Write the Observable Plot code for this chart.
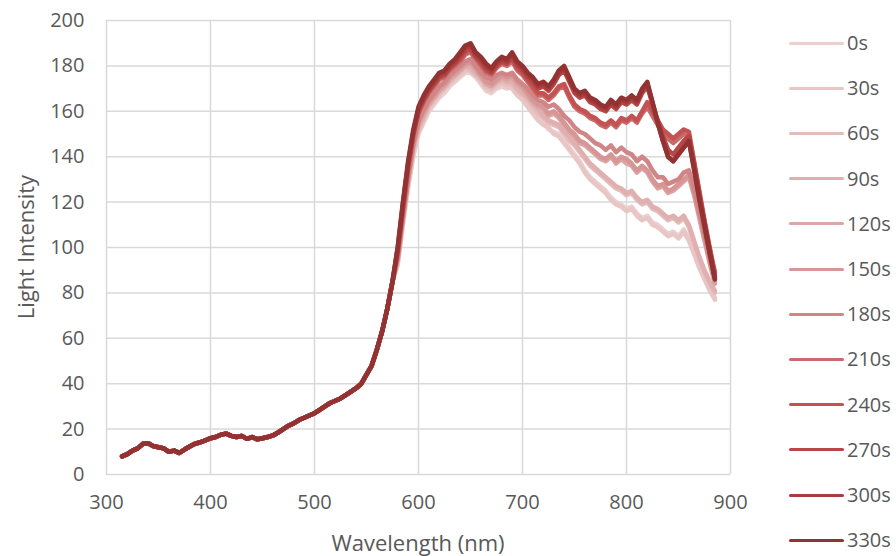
<!DOCTYPE html>
<html><head><meta charset="utf-8">
<script src="https://cdn.jsdelivr.net/npm/d3@7"></script>
<script src="https://cdn.jsdelivr.net/npm/@observablehq/plot@0.6"></script>
<style>
body{margin:0;background:#fff;}
#wrap{position:relative;width:896px;height:556px;font-family:"Open Sans",sans-serif;color:#595959;overflow:hidden;background:#fff}
#wrap svg{position:absolute;left:0;top:0}
.ttl{position:absolute;font-size:22px;white-space:nowrap;line-height:1}
.lg-sw{position:absolute;height:3px;width:55px;border-radius:1.5px}
.lg-tx{position:absolute;font-size:20px;line-height:1;white-space:nowrap}
</style></head><body><div id="wrap"></div>
<script>
const seriesNames = ["0s","30s","60s","90s","120s","150s","180s","210s","240s","270s","300s","330s"];
const seriesColors = ["#ecd0d0","#e8c6c6","#e4bcbc","#e0b0b0","#dca4a4","#d69696","#d08686","#ca6a6a","#c45252","#b84646","#a83c3c","#923232"];
const xTicks = [300,400,500,600,700,800,900];
const yTicks = [0,20,40,60,80,100,120,140,160,180,200];

// shared part (all series overlap), 315–575 nm
const baseWavelength = [315,320,325,330,335,340,345,350,355,360,365,370,375,380,385,390,395,400,405,410,415,420,425,430,435,440,445,450,455,460,465,470,475,480,485,490,495,500,505,510,515,520,525,530,535,540,545,550,555,560,565,570,575];
const baseIntensity = [8,9,10.5,11.5,13.5,13.8,12.5,12,11.5,10,10.5,9.5,11,12.3,13.5,14.2,15,16,16.5,17.5,18,17,16.5,17,15.7,16.5,15.5,16,16.5,17.2,18.5,20,21.5,22.5,24,25,26,27,28.5,30,31.5,32.5,33.5,35,36.5,38,40,44,48,55,63,73,85];

// per-series part, 580–885 nm
const tailWavelength = [580,585,590,595,600,605,610,615,620,625,630,635,640,645,650,655,660,665,670,675,680,685,690,695,700,705,710,715,720,725,730,735,740,745,750,755,760,765,770,775,780,785,790,795,800,805,810,815,820,825,830,835,840,845,850,855,860,865,870,875,880,885];
const tail0s   = [92,110,126,140,150,155,160,163,166,168,171,173,175,177,177,175,172,169,168,170,171,170,171,168,166,163,160,157,155,152,151,150,147,144,141,138,134,131,129,127,125,122,120,119,117,118,115,113,114,111,110,108,106,107,105,108,104,98,92,87,82,78];
const tail30s  = [93,111,127,141,151,156,161,164,167,170,172,174,176,178,178,176,173,170,169,171,172,171,170,167,165,162,159,156,154,153,150,149,146,143,140,137,133,130,128,126,124,121,119,118,116,117,114,112,113,110,109,107,105,106,104,107,103,97,91,86,81,77];
const tail60s  = [94,112,129,143,152,157,162,165,168,170,173,175,177,179,178,176,174,171,170,172,173,172,172,169,167,165,162,159,157,155,154,153,150,147,145,142,139,136,134,132,130,128,126,125,123,124,121,119,120,117,116,114,112,113,111,113,109,102,95,89,84,80];
const tail90s  = [95,113,130,144,153,158,163,166,169,171,174,176,178,180,179,177,175,172,171,173,174,173,173,170,168,166,163,161,158,156,155,154,151,149,146,143,140,137,135,133,131,129,127,126,124,125,122,120,121,118,117,115,113,114,112,114,110,103,96,90,85,81];
const tail120s = [95,113,130,145,154,159,163,166,169,171,174,176,178,180,181,178,175,172,171,173,175,174,175,172,170,167,164,162,161,158,159,157,154,151,149,146,145,143,141,139,138,140,137,139,137,136,133,135,133,129,126,127,124,125,127,129,131,123,113,103,93,84];
const tail150s = [95,113,130,145,155,160,164,167,170,172,175,177,179,181,182,179,176,173,172,174,176,175,176,173,171,168,165,163,162,159,160,158,155,152,150,147,146,144,142,140,139,141,138,140,139,137,134,136,134,130,127,128,125,126,128,130,132,124,114,104,94,85];
const tail180s = [96,114,131,146,156,161,165,168,171,173,176,178,180,182,183,180,177,175,174,176,177,176,177,174,172,170,167,165,164,162,163,161,158,156,153,151,150,148,146,145,143,145,142,144,142,141,138,140,138,134,131,131,128,129,130,133,134,126,116,106,96,87];
const tail210s = [97,116,134,149,159,164,168,171,174,175,178,180,182,185,186,183,180,177,176,179,181,180,182,178,176,173,170,167,167,165,167,170,171,166,162,160,159,157,156,154,153,155,153,156,155,157,155,159,162,158,154,150,148,146,148,150,149,137,124,111,99,88];
const tail240s = [98,117,135,150,160,165,169,172,175,176,179,181,183,186,187,184,181,178,177,180,182,181,183,179,177,174,171,168,168,166,168,171,172,167,163,161,160,158,157,155,154,156,154,157,156,158,156,160,164,160,156,152,150,148,150,152,151,138,125,112,100,89];
const tail270s = [99,118,136,150,160,165,169,172,175,176,179,181,184,187,188,184,182,179,177,180,182,181,184,180,178,175,173,170,171,169,172,176,178,173,168,166,167,164,163,161,160,163,161,164,163,165,163,168,171,163,156,149,143,141,144,147,149,136,123,111,99,87];
const tail300s = [100,119,137,151,161,166,170,173,176,177,180,182,185,188,189,185,183,180,178,181,183,182,185,181,179,176,174,171,172,170,173,177,179,174,169,167,168,165,164,162,161,164,162,165,164,166,164,169,172,164,155,147,140,138,141,144,147,134,121,109,97,86];
const tail330s = [100,120,138,152,162,167,171,174,177,178,181,183,186,189,190,186,184,181,179,182,184,183,186,182,180,177,175,172,173,171,174,178,180,175,170,168,169,166,165,163,162,165,163,166,165,167,165,170,173,164,155,147,140,138,141,144,147,135,122,110,98,86];

const tails = [tail0s,tail30s,tail60s,tail90s,tail120s,tail150s,tail180s,tail210s,tail240s,tail270s,tail300s,tail330s];
const rows = [];
seriesNames.forEach((name, k) => {
  baseWavelength.forEach((w, i) => rows.push({series: name, nm: w, v: baseIntensity[i]}));
  tailWavelength.forEach((w, i) => rows.push({series: name, nm: w, v: tails[k][i]}));
});

const chart = Plot.plot({
  width: 896, height: 556,
  marginLeft: 106, marginRight: 166, marginTop: 20, marginBottom: 82,
  x: {domain: [300, 900]},
  y: {domain: [0, 200]},
  color: {domain: seriesNames, range: seriesColors},
  style: {fontFamily: "Open Sans, sans-serif", fontSize: "20px", color: "#595959", background: "#fff"},
  marks: [
    Plot.gridX(xTicks, {stroke: "#d9d9d9", strokeOpacity: 1, strokeWidth: 1.5}),
    Plot.gridY(yTicks, {stroke: "#d9d9d9", strokeOpacity: 1, strokeWidth: 1.5}),
    Plot.axisX(xTicks, {tickSize: 0, tickPadding: 20, label: null, fontSize: 20, fill: "#595959"}),
    Plot.axisY(yTicks, {tickSize: 0, tickPadding: 22, label: null, fontSize: 20, fill: "#595959"}),
    Plot.line(rows, {x: "nm", y: "v", z: "series", stroke: "series", strokeWidth: 4.5, strokeLinejoin: "round", strokeLinecap: "round"})
  ]
});

const wrap = document.getElementById("wrap");
wrap.appendChild(chart);

const xt = document.createElement("div");
xt.className = "ttl"; xt.textContent = "Wavelength (nm)";
xt.style.left = "418px"; xt.style.top = "542px"; xt.style.transform = "translate(-50%,-50%)";
wrap.appendChild(xt);

const yt = document.createElement("div");
yt.className = "ttl"; yt.textContent = "Light Intensity";
yt.style.left = "25px"; yt.style.top = "247px"; yt.style.transform = "translate(-50%,-50%) rotate(-90deg)";
wrap.appendChild(yt);

seriesNames.forEach((name, i) => {
  const cy = 43 + i * 45.2;
  const sw = document.createElement("div");
  sw.className = "lg-sw"; sw.style.left = "789px"; sw.style.top = (cy - 1.5) + "px"; sw.style.background = seriesColors[i];
  wrap.appendChild(sw);
  const tx = document.createElement("div");
  tx.className = "lg-tx"; tx.textContent = name; tx.style.left = "847px"; tx.style.top = cy + "px"; tx.style.transform = "translateY(-50%)";
  wrap.appendChild(tx);
});
</script>
</body></html>
